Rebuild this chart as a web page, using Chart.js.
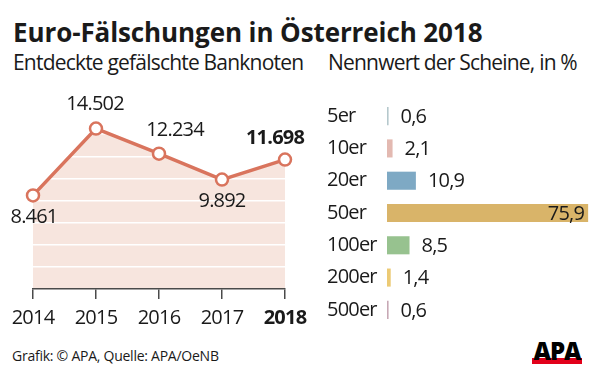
<!DOCTYPE html>
<html lang="de">
<head>
<meta charset="utf-8">
<title>Euro-Fälschungen in Österreich 2018</title>
<script src="https://cdn.jsdelivr.net/npm/chart.js@4/dist/chart.umd.min.js"></script>
<style>
  body { margin: 0; width: 600px; height: 375px; background: #fff; position: relative; overflow: hidden;
         font-family: 'Open Sans', sans-serif; color: #1a1a1a; }
  .txt { position: absolute; white-space: nowrap; line-height: normal; }
  #titel { left: 13px; top: 14px; font-size: 26px; font-weight: 700; letter-spacing: -0.1px; }
  .sub { top: 48px; font-size: 21px; letter-spacing: -0.8px; }
  #quelle { left: 12px; top: 346px; font-size: 14px; letter-spacing: -0.25px; }
  #logo { position: absolute; left: 532px; top: 338px; width: 50px; height: 26px; }
  #logo .bar { position: absolute; left: 0; bottom: 0; width: 50px; height: 6px; background: #e2001a; }
  #logo .apa { position: absolute; left: 0; top: -4px; width: 50px; text-align: center; font-size: 24px;
               font-weight: 800; letter-spacing: -1px; color: #000; line-height: normal; }
  #links { position: absolute; left: 0; top: 90px; width: 315px; height: 250px; }
  #rechts { position: absolute; left: 315px; top: 88px; width: 285px; height: 250px; }
</style>
</head>
<body>
<div id="titel" class="txt">Euro-Fälschungen in Österreich 2018</div>
<div class="txt sub" style="left:13px">Entdeckte gefälschte Banknoten</div>
<div class="txt sub" style="left:328px">Nennwert der Scheine, in %</div>
<div id="quelle" class="txt">Grafik: © APA, Quelle: APA/OeNB</div>
<div id="logo"><div class="bar"></div><div class="apa">APA</div></div>
<div id="links"><canvas id="grafikJahre"></canvas></div>
<div id="rechts"><canvas id="grafikScheine"></canvas></div>

<script>
// ---------- Daten ----------
const jahre = ['2014', '2015', '2016', '2017', '2018'];
const faelschungen = [8461, 14502, 12234, 9892, 11698];

const scheine = ['5er', '10er', '20er', '50er', '100er', '200er', '500er'];
const anteile = [0.6, 2.1, 10.9, 75.9, 8.5, 1.4, 0.6];
const scheinFarben = ['#b5c8cc', '#e3b9b1', '#7ea9c4', '#d9b469', '#97c28f', '#ecca74', '#c7a8b5'];

// ---------- Stil ----------
const FAMILIE = "'Open Sans', sans-serif";
const TEXT = '#1a1a1a';
const LINIE = '#d9745d';
const FLAECHE = '#f7e5de';

// Formatierung: Tausenderpunkt bzw. Dezimalkomma
const tausender = v => String(v).replace(/\B(?=(\d{3})+(?!\d))/g, '.');
const komma = v => v.toFixed(1).replace('.', ',');

// etwas engere Schrift auf beiden Canvas (Original ist schmaler gesetzt)
const engeSchrift = {
  id: 'engeSchrift',
  beforeDraw(chart) { chart.ctx.letterSpacing = '-0.8px'; }
};

// Versatz der Beschriftungen je Punkt (dx, dy)
const beschriftungVersatz = [[1, 22], [-1, -24], [16, -23], [0, 22], [-10, -21]];

const linienBeschriftung = {
  id: 'linienBeschriftung',
  afterDatasetsDraw(chart) {
    const ctx = chart.ctx;
    const punkte = chart.getDatasetMeta(0).data;
    ctx.save();
    ctx.fillStyle = TEXT;
    ctx.textAlign = 'center';
    ctx.textBaseline = 'middle';
    punkte.forEach((p, i) => {
      const letzter = i === punkte.length - 1;
      ctx.font = (letzter ? 'bold ' : '') + '20px ' + FAMILIE;
      const [dx, dy] = beschriftungVersatz[i];
      ctx.fillText(tausender(faelschungen[i]), p.x + dx, p.y + dy);
    });
    ctx.restore();
  }
};

const balkenBeschriftung = {
  id: 'balkenBeschriftung',
  afterDatasetsDraw(chart) {
    const ctx = chart.ctx;
    const balken = chart.getDatasetMeta(0).data;
    const groesster = Math.max(...anteile);
    ctx.save();
    ctx.fillStyle = TEXT;
    ctx.textBaseline = 'middle';
    ctx.font = '20px ' + FAMILIE;
    balken.forEach((b, i) => {
      if (anteile[i] === groesster) {
        ctx.textAlign = 'right';
        ctx.fillText(komma(anteile[i]), b.x - 4, b.y + 1);
      } else {
        ctx.textAlign = 'left';
        ctx.fillText(komma(anteile[i]), b.x + 12, b.y + 1);
      }
    });
    ctx.restore();
  }
};

// ---------- Liniendiagramm: entdeckte Fälschungen ----------
new Chart(document.getElementById('grafikJahre'), {
  type: 'line',
  data: {
    labels: jahre,
    datasets: [{
      data: faelschungen,
      borderColor: LINIE,
      borderWidth: 3.5,
      backgroundColor: FLAECHE,
      fill: 'origin',
      tension: 0,
      pointRadius: 6,
      pointBorderWidth: 2.5,
      pointBackgroundColor: '#fff',
      pointBorderColor: LINIE
    }]
  },
  options: {
    responsive: true,
    maintainAspectRatio: false,
    animation: false,
    layout: { padding: { left: 33, right: 30, top: 22, bottom: 0 } },
    plugins: {
      legend: { display: false },
      tooltip: { enabled: false },
      filler: { drawTime: 'beforeDraw' }   // Fläche unter den weißen Hilfslinien
    },
    scales: {
      x: {
        offset: false,
        grid: { drawOnChartArea: false, drawTicks: true, tickLength: 10, color: '#4a4a4a', lineWidth: 1.5 },
        border: { display: true, color: '#4a4a4a', width: 1.5 },
        ticks: {
          padding: 7,
          color: TEXT,
          maxRotation: 0,
          font: c => ({ family: FAMILIE, size: 20, weight: c.index === jahre.length - 1 ? 'bold' : 'normal' })
        },
        afterFit: s => { s.height = 51; }
      },
      y: {
        min: 0,
        max: 16000,
        ticks: { display: false, stepSize: 2000 },
        grid: { color: c => (c.tick.value > 0 ? '#ffffff' : 'rgba(0,0,0,0)'), lineWidth: 1.5, drawTicks: false },
        border: { display: false },
        afterFit: s => { s.width = 0; }
      }
    }
  },
  plugins: [engeSchrift, linienBeschriftung]
});

// ---------- Balkendiagramm: Nennwert der Scheine ----------
new Chart(document.getElementById('grafikScheine'), {
  type: 'bar',
  data: {
    labels: scheine,
    datasets: [{
      data: anteile,
      backgroundColor: scheinFarben,
      barPercentage: 0.56,
      categoryPercentage: 1
    }]
  },
  options: {
    indexAxis: 'y',
    responsive: true,
    maintainAspectRatio: false,
    animation: false,
    layout: { padding: { left: 12, right: 1, top: 0, bottom: 0 } },
    plugins: { legend: { display: false }, tooltip: { enabled: false } },
    scales: {
      x: { display: false, min: 0, max: 80 },
      y: {
        grid: { display: false },
        border: { display: false },
        ticks: { crossAlign: 'far', padding: 0, color: TEXT, font: { family: FAMILIE, size: 20 } },
        afterFit: s => { s.width = 60; }
      }
    }
  },
  plugins: [engeSchrift, balkenBeschriftung]
});
</script>
</body>
</html>
